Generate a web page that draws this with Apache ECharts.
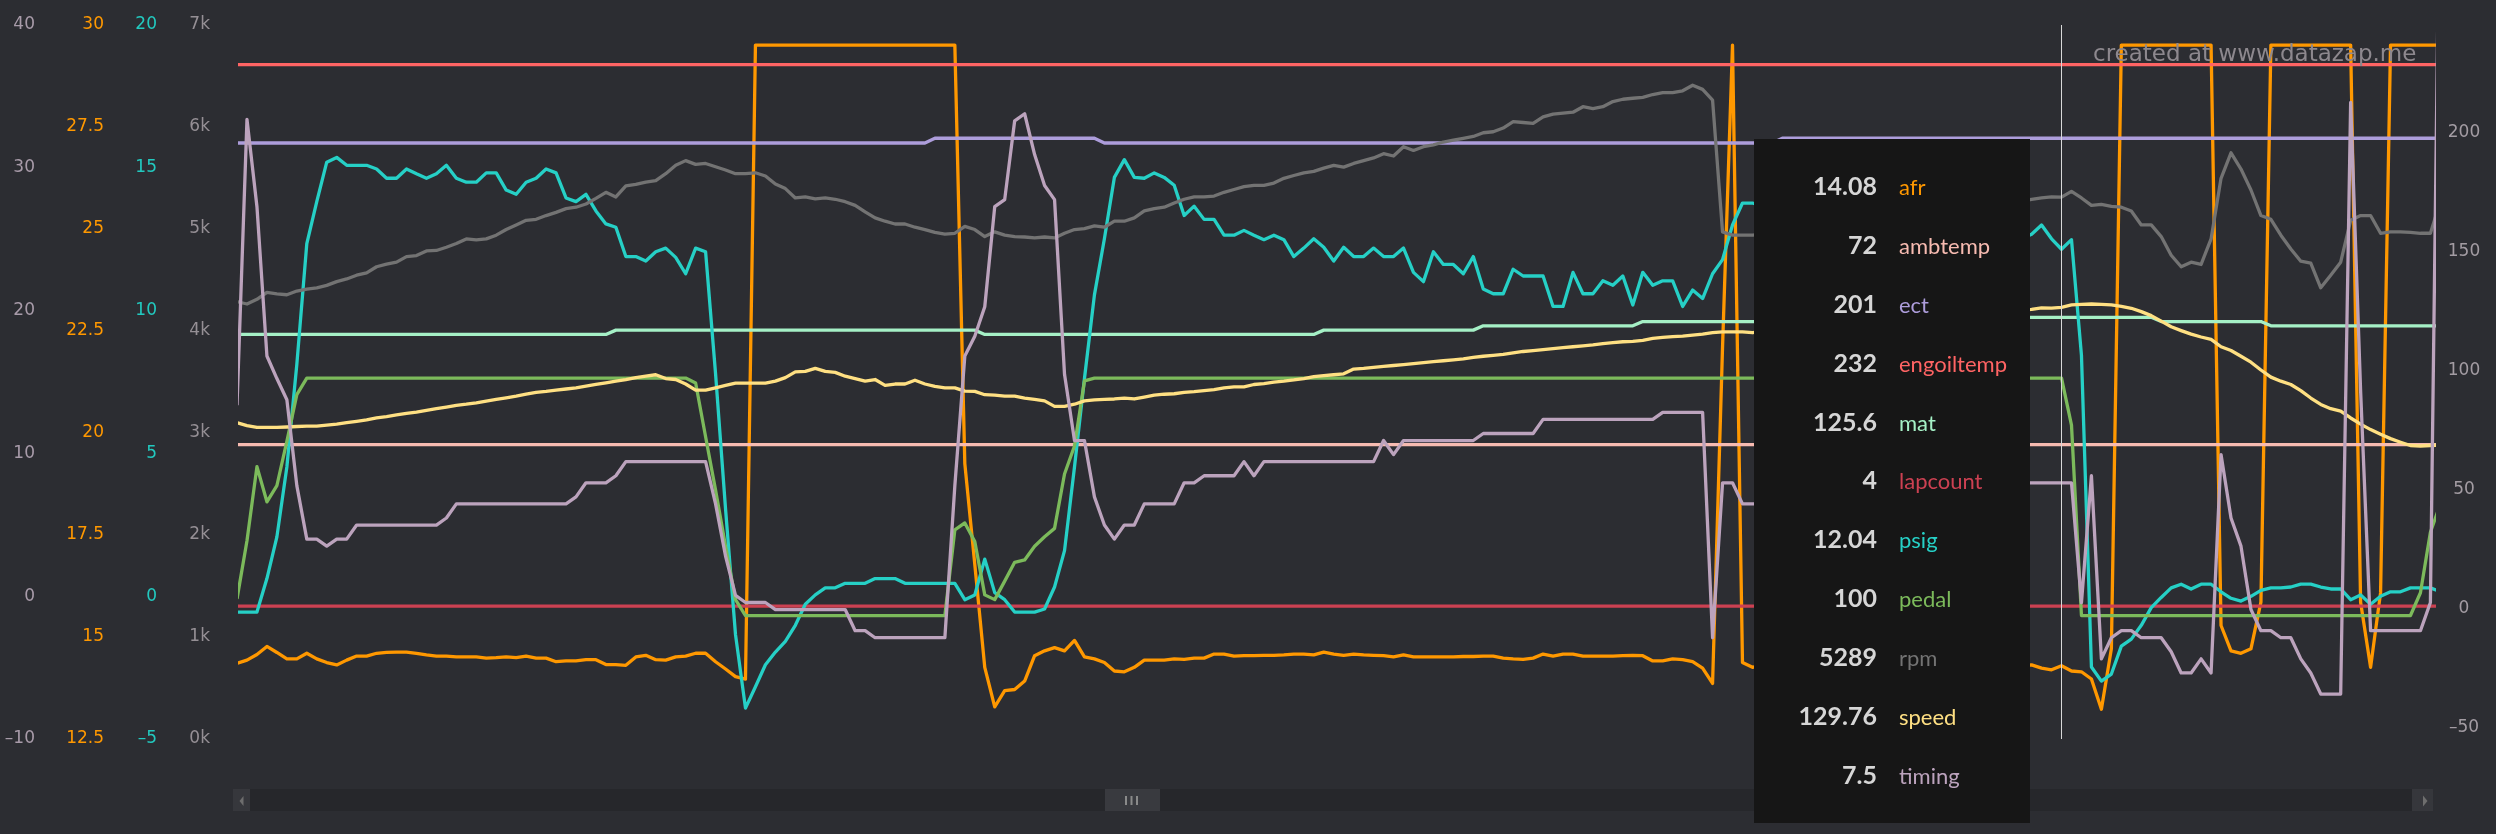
<!DOCTYPE html>
<html>
<head>
<meta charset="utf-8">
<title>datazap log</title>
<script src="https://cdn.jsdelivr.net/npm/echarts@6/dist/echarts.min.js"></script>
<style>
  html, body { margin: 0; padding: 0; background: #2c2d32; }
  #chart { width: 2496px; height: 834px; }
</style>
</head>
<body>
<div id="chart"></div>
<script>
const afr = [
  14.14, 14.22, 14.36, 14.56, 14.41, 14.25, 14.25, 14.39, 14.25, 14.16, 14.10, 14.22, 14.32, 14.32, 14.39, 14.41, 14.42, 14.42, 14.39, 14.35,
  14.32, 14.32, 14.30, 14.30, 14.30, 14.27, 14.28, 14.30, 14.28, 14.32, 14.27, 14.27, 14.18, 14.20, 14.20, 14.23, 14.23, 14.11, 14.11, 14.09,
  14.30, 14.34, 14.23, 14.22, 14.30, 14.32, 14.39, 14.39, 14.18, 14.00, 13.81, 13.75, 29.5, 29.5, 29.5, 29.5, 29.5, 29.5, 29.5, 29.5,
  29.5, 29.5, 29.5, 29.5, 29.5, 29.5, 29.5, 29.5, 29.5, 29.5, 29.5, 29.5, 29.5, 19.1, 16.6, 14.04, 13.06, 13.46, 13.49, 13.70,
  14.33, 14.45, 14.53, 14.45, 14.71, 14.30, 14.25, 14.16, 13.95, 13.93, 14.04, 14.22, 14.22, 14.22, 14.25, 14.24, 14.27, 14.27, 14.37, 14.37,
  14.32, 14.33, 14.33, 14.34, 14.34, 14.35, 14.37, 14.37, 14.35, 14.42, 14.37, 14.34, 14.37, 14.35, 14.34, 14.33, 14.30, 14.35, 14.30, 14.30,
  14.30, 14.30, 14.30, 14.31, 14.31, 14.32, 14.32, 14.27, 14.25, 14.24, 14.27, 14.37, 14.32, 14.37, 14.37, 14.32, 14.32, 14.32, 14.32, 14.33,
  14.34, 14.33, 14.20, 14.20, 14.25, 14.23, 14.18, 14.02, 13.64, 22.0, 29.5, 14.16, 14.04, 14.10, 14.06, 14.12, 14.15, 14.08, 14.11, 14.05,
  14.09, 14.13, 14.07, 14.10, 14.14, 14.09, 14.06, 14.11, 14.08, 14.12, 14.10, 14.05, 14.09, 14.13, 14.08, 14.06, 14.10, 14.07, 14.11, 14.09,
  14.10, 14.02, 13.98, 14.08, 13.95, 13.93, 13.75, 13.00, 14.50, 29.5, 29.5, 29.5, 29.5, 29.5, 29.5, 29.5, 29.5, 29.5, 29.5, 15.08,
  14.45, 14.39, 14.50, 15.66, 29.5, 29.5, 29.5, 29.5, 29.5, 29.5, 29.5, 29.5, 29.5, 15.66, 14.04, 15.89, 29.5, 29.5, 29.5, 29.5, 29.5, 29.5
];
const ambtemp = [
  72, 72, 72, 72, 72, 72, 72, 72, 72, 72, 72, 72, 72, 72, 72, 72, 72, 72, 72, 72,
  72, 72, 72, 72, 72, 72, 72, 72, 72, 72, 72, 72, 72, 72, 72, 72, 72, 72, 72, 72,
  72, 72, 72, 72, 72, 72, 72, 72, 72, 72, 72, 72, 72, 72, 72, 72, 72, 72, 72, 72,
  72, 72, 72, 72, 72, 72, 72, 72, 72, 72, 72, 72, 72, 72, 72, 72, 72, 72, 72, 72,
  72, 72, 72, 72, 72, 72, 72, 72, 72, 72, 72, 72, 72, 72, 72, 72, 72, 72, 72, 72,
  72, 72, 72, 72, 72, 72, 72, 72, 72, 72, 72, 72, 72, 72, 72, 72, 72, 72, 72, 72,
  72, 72, 72, 72, 72, 72, 72, 72, 72, 72, 72, 72, 72, 72, 72, 72, 72, 72, 72, 72,
  72, 72, 72, 72, 72, 72, 72, 72, 72, 72, 72, 72, 72, 72, 72, 72, 72, 72, 72, 72,
  72, 72, 72, 72, 72, 72, 72, 72, 72, 72, 72, 72, 72, 72, 72, 72, 72, 72, 72, 72,
  72, 72, 72, 72, 72, 72, 72, 72, 72, 72, 72, 72, 72, 72, 72, 72, 72, 72, 72, 72,
  72, 72, 72, 72, 72, 72, 72, 72, 72, 72, 72, 72, 72, 72, 72, 72, 72, 72, 72, 72, 72, 72
];
const ect = [
  199, 199, 199, 199, 199, 199, 199, 199, 199, 199, 199, 199, 199, 199, 199, 199, 199, 199, 199, 199,
  199, 199, 199, 199, 199, 199, 199, 199, 199, 199, 199, 199, 199, 199, 199, 199, 199, 199, 199, 199,
  199, 199, 199, 199, 199, 199, 199, 199, 199, 199, 199, 199, 199, 199, 199, 199, 199, 199, 199, 199,
  199, 199, 199, 199, 199, 199, 199, 199, 199, 199, 201, 201, 201, 201, 201, 201, 201, 201, 201, 201,
  201, 201, 201, 201, 201, 201, 201, 199, 199, 199, 199, 199, 199, 199, 199, 199, 199, 199, 199, 199,
  199, 199, 199, 199, 199, 199, 199, 199, 199, 199, 199, 199, 199, 199, 199, 199, 199, 199, 199, 199,
  199, 199, 199, 199, 199, 199, 199, 199, 199, 199, 199, 199, 199, 199, 199, 199, 199, 199, 199, 199,
  199, 199, 199, 199, 199, 199, 199, 199, 199, 199, 199, 199, 199, 199, 199, 201, 201, 201, 201, 201,
  201, 201, 201, 201, 201, 201, 201, 201, 201, 201, 201, 201, 201, 201, 201, 201, 201, 201, 201, 201,
  201, 201, 201, 201, 201, 201, 201, 201, 201, 201, 201, 201, 201, 201, 201, 201, 201, 201, 201, 201,
  201, 201, 201, 201, 201, 201, 201, 201, 201, 201, 201, 201, 201, 201, 201, 201, 201, 201, 201, 201, 201, 201
];
const engoiltemp = [
  232, 232, 232, 232, 232, 232, 232, 232, 232, 232, 232, 232, 232, 232, 232, 232, 232, 232, 232, 232,
  232, 232, 232, 232, 232, 232, 232, 232, 232, 232, 232, 232, 232, 232, 232, 232, 232, 232, 232, 232,
  232, 232, 232, 232, 232, 232, 232, 232, 232, 232, 232, 232, 232, 232, 232, 232, 232, 232, 232, 232,
  232, 232, 232, 232, 232, 232, 232, 232, 232, 232, 232, 232, 232, 232, 232, 232, 232, 232, 232, 232,
  232, 232, 232, 232, 232, 232, 232, 232, 232, 232, 232, 232, 232, 232, 232, 232, 232, 232, 232, 232,
  232, 232, 232, 232, 232, 232, 232, 232, 232, 232, 232, 232, 232, 232, 232, 232, 232, 232, 232, 232,
  232, 232, 232, 232, 232, 232, 232, 232, 232, 232, 232, 232, 232, 232, 232, 232, 232, 232, 232, 232,
  232, 232, 232, 232, 232, 232, 232, 232, 232, 232, 232, 232, 232, 232, 232, 232, 232, 232, 232, 232,
  232, 232, 232, 232, 232, 232, 232, 232, 232, 232, 232, 232, 232, 232, 232, 232, 232, 232, 232, 232,
  232, 232, 232, 232, 232, 232, 232, 232, 232, 232, 232, 232, 232, 232, 232, 232, 232, 232, 232, 232,
  232, 232, 232, 232, 232, 232, 232, 232, 232, 232, 232, 232, 232, 232, 232, 232, 232, 232, 232, 232, 232, 232
];
const mat = [
  118.4, 118.4, 118.4, 118.4, 118.4, 118.4, 118.4, 118.4, 118.4, 118.4, 118.4, 118.4, 118.4, 118.4, 118.4, 118.4, 118.4, 118.4, 118.4, 118.4,
  118.4, 118.4, 118.4, 118.4, 118.4, 118.4, 118.4, 118.4, 118.4, 118.4, 118.4, 118.4, 118.4, 118.4, 118.4, 118.4, 118.4, 118.4, 120.2, 120.2,
  120.2, 120.2, 120.2, 120.2, 120.2, 120.2, 120.2, 120.2, 120.2, 120.2, 120.2, 120.2, 120.2, 120.2, 120.2, 120.2, 120.2, 120.2, 120.2, 120.2,
  120.2, 120.2, 120.2, 120.2, 120.2, 120.2, 120.2, 120.2, 120.2, 120.2, 120.2, 120.2, 120.2, 120.2, 120.2, 118.4, 118.4, 118.4, 118.4, 118.4,
  118.4, 118.4, 118.4, 118.4, 118.4, 118.4, 118.4, 118.4, 118.4, 118.4, 118.4, 118.4, 118.4, 118.4, 118.4, 118.4, 118.4, 118.4, 118.4, 118.4,
  118.4, 118.4, 118.4, 118.4, 118.4, 118.4, 118.4, 118.4, 118.4, 120.2, 120.2, 120.2, 120.2, 120.2, 120.2, 120.2, 120.2, 120.2, 120.2, 120.2,
  120.2, 120.2, 120.2, 120.2, 120.2, 122.0, 122.0, 122.0, 122.0, 122.0, 122.0, 122.0, 122.0, 122.0, 122.0, 122.0, 122.0, 122.0, 122.0, 122.0,
  122.0, 123.8, 123.8, 123.8, 123.8, 123.8, 123.8, 123.8, 123.8, 123.8, 123.8, 123.8, 123.8, 123.8, 123.8, 123.8, 123.8, 123.8, 123.8, 123.8,
  123.8, 123.8, 123.8, 123.8, 123.8, 123.8, 125.6, 125.6, 125.6, 125.6, 125.6, 125.6, 125.6, 125.6, 125.6, 125.6, 125.6, 125.6, 125.6, 125.6,
  125.6, 125.6, 125.6, 125.6, 125.6, 125.6, 125.6, 125.6, 125.6, 125.6, 125.6, 125.6, 125.6, 123.8, 123.8, 123.8, 123.8, 123.8, 123.8, 123.8,
  123.8, 123.8, 123.8, 123.8, 122.0, 122.0, 122.0, 122.0, 122.0, 122.0, 122.0, 122.0, 122.0, 122.0, 122.0, 122.0, 122.0, 122.0, 122.0, 122.0, 122.0, 122.0
];
const lapcount = [
  4, 4, 4, 4, 4, 4, 4, 4, 4, 4, 4, 4, 4, 4, 4, 4, 4, 4, 4, 4,
  4, 4, 4, 4, 4, 4, 4, 4, 4, 4, 4, 4, 4, 4, 4, 4, 4, 4, 4, 4,
  4, 4, 4, 4, 4, 4, 4, 4, 4, 4, 4, 4, 4, 4, 4, 4, 4, 4, 4, 4,
  4, 4, 4, 4, 4, 4, 4, 4, 4, 4, 4, 4, 4, 4, 4, 4, 4, 4, 4, 4,
  4, 4, 4, 4, 4, 4, 4, 4, 4, 4, 4, 4, 4, 4, 4, 4, 4, 4, 4, 4,
  4, 4, 4, 4, 4, 4, 4, 4, 4, 4, 4, 4, 4, 4, 4, 4, 4, 4, 4, 4,
  4, 4, 4, 4, 4, 4, 4, 4, 4, 4, 4, 4, 4, 4, 4, 4, 4, 4, 4, 4,
  4, 4, 4, 4, 4, 4, 4, 4, 4, 4, 4, 4, 4, 4, 4, 4, 4, 4, 4, 4,
  4, 4, 4, 4, 4, 4, 4, 4, 4, 4, 4, 4, 4, 4, 4, 4, 4, 4, 4, 4,
  4, 4, 4, 4, 4, 4, 4, 4, 4, 4, 4, 4, 4, 4, 4, 4, 4, 4, 4, 4,
  4, 4, 4, 4, 4, 4, 4, 4, 4, 4, 4, 4, 4, 4, 4, 4, 4, 4, 4, 4, 4, 4
];
const psig = [
  -0.84, -0.84, -0.84, 0.35, 1.83, 4.31, 7.95, 12.24, 13.73, 15.13, 15.30, 15.02, 15.02, 15.02, 14.89, 14.56, 14.56, 14.89, 14.72, 14.56,
  14.72, 15.02, 14.56, 14.42, 14.42, 14.75, 14.75, 14.14, 13.99, 14.42, 14.56, 14.89, 14.75, 13.86, 13.73, 13.99, 13.40, 12.94, 12.82, 11.78,
  11.78, 11.62, 11.95, 12.08, 11.75, 11.17, 12.08, 11.95, 7.62, 2.82, -1.64, -4.25, -3.49, -2.71, -2.26, -1.88, -1.31, -0.56, -0.23, 0.02,
  0.02, 0.18, 0.18, 0.18, 0.35, 0.35, 0.35, 0.18, 0.18, 0.18, 0.18, 0.18, 0.18, -0.40, -0.23, 1.04, -0.15, -0.40, -0.84, -0.84,
  -0.84, -0.73, 0.05, 1.34, 4.31, 7.45, 10.42, 12.41, 14.59, 15.22, 14.59, 14.56, 14.75, 14.59, 14.31, 13.24, 13.57, 13.10, 13.10, 12.54,
  12.54, 12.71, 12.54, 12.38, 12.54, 12.38, 11.78, 12.08, 12.41, 12.11, 11.62, 12.11, 11.78, 11.78, 12.08, 11.78, 11.78, 12.08, 11.22, 10.89,
  11.95, 11.50, 11.50, 11.17, 11.78, 10.63, 10.46, 10.46, 11.33, 11.09, 11.09, 11.09, 10.01, 10.01, 11.22, 10.46, 10.46, 10.92, 10.76, 11.09,
  10.06, 11.22, 10.76, 10.92, 10.92, 10.01, 10.59, 10.29, 11.17, 11.67, 12.90, 13.68, 13.68, 13.57, 13.40, 13.65, 13.24, 13.32, 13.07, 13.15,
  13.40, 12.90, 12.99, 13.24, 12.82, 13.07, 12.74, 12.90, 12.66, 13.07, 12.82, 12.57, 12.90, 12.66, 12.74, 12.49, 12.82, 12.57, 12.74, 12.41,
  12.57, 12.90, 12.41, 12.04, 12.38, 8.27, -2.79, -3.29, -3.04, -2.05, -1.80, -1.31, -0.68, -0.32, 0.02, 0.15, -0.02, 0.15, 0.15, -0.12,
  -0.35, -0.45, -0.28, -0.07, 0.02, 0.02, 0.05, 0.15, 0.15, 0.05, -0.02, -0.02, -0.40, -0.23, -0.56, -0.28, -0.12, -0.12, 0.02, 0.02, 0.02, -0.12
];
const pedal = [
  7.0, 31.5, 62.7, 47.9, 54.7, 73.4, 93.0, 100, 100, 100, 100, 100, 100, 100, 100, 100, 100, 100, 100, 100,
  100, 100, 100, 100, 100, 100, 100, 100, 100, 100, 100, 100, 100, 100, 100, 100, 100, 100, 100, 100,
  100, 100, 100, 100, 100, 100, 97.9, 75.3, 52.8, 29.2, 6.7, 0, 0, 0, 0, 0, 0, 0, 0, 0,
  0, 0, 0, 0, 0, 0, 0, 0, 0, 0, 0, 0, 36.1, 39.0, 31.2, 8.7, 6.7, 14.5, 22.4, 23.4,
  29.2, 33.2, 36.7, 59.6, 71.4, 98.8, 100, 100, 100, 100, 100, 100, 100, 100, 100, 100, 100, 100, 100, 100,
  100, 100, 100, 100, 100, 100, 100, 100, 100, 100, 100, 100, 100, 100, 100, 100, 100, 100, 100, 100,
  100, 100, 100, 100, 100, 100, 100, 100, 100, 100, 100, 100, 100, 100, 100, 100, 100, 100, 100, 100,
  100, 100, 100, 100, 100, 100, 100, 100, 100, 100, 100, 100, 100, 100, 100, 100, 100, 100, 100, 100,
  100, 100, 100, 100, 100, 100, 100, 100, 100, 100, 100, 100, 100, 100, 100, 100, 100, 100, 100, 100,
  100, 100, 100, 100, 80.2, 0, 0, 0, 0, 0, 0, 0, 0, 0, 0, 0, 0, 0, 0, 0,
  0, 0, 0, 0, 0, 0, 0, 0, 0, 0, 0, 0, 0, 0, 0, 0, 0, 0, 0, 9.6, 35.1, 47
];
const rpm = [
  4250, 4227, 4273, 4342, 4328, 4319, 4356, 4375, 4388, 4412, 4449, 4476, 4513, 4537, 4597, 4624, 4643, 4698, 4708, 4754,
  4759, 4791, 4828, 4874, 4865, 4874, 4911, 4967, 5013, 5059, 5069, 5106, 5138, 5175, 5189, 5221, 5277, 5337, 5291, 5402,
  5416, 5439, 5453, 5522, 5605, 5652, 5615, 5624, 5591, 5559, 5522, 5522, 5531, 5499, 5420, 5374, 5281, 5291, 5272, 5281,
  5268, 5244, 5207, 5143, 5083, 5050, 5022, 5022, 4990, 4967, 4939, 4921, 4930, 4999, 4967, 4897, 4944, 4911, 4897, 4893,
  4884, 4893, 4884, 4930, 4967, 4976, 5004, 4990, 5050, 5050, 5083, 5152, 5175, 5189, 5231, 5268, 5291, 5291, 5300, 5337,
  5365, 5393, 5406, 5406, 5429, 5476, 5504, 5531, 5545, 5578, 5605, 5587, 5624, 5652, 5679, 5721, 5698, 5790, 5753, 5790,
  5809, 5837, 5855, 5874, 5892, 5929, 5939, 5976, 6040, 6031, 6022, 6087, 6114, 6124, 6133, 6188, 6170, 6188, 6239, 6262,
  6272, 6281, 6309, 6327, 6327, 6346, 6401, 6360, 6253, 4944, 4911, 4911, 4911, 4920, 4935, 4950, 4944, 4960, 4975, 4990,
  4985, 5000, 5015, 5030, 5025, 5045, 5060, 5075, 5070, 5090, 5105, 5120, 5135, 5150, 5160, 5175, 5190, 5210, 5230, 5250,
  5268, 5281, 5291, 5289, 5346, 5281, 5207, 5217, 5198, 5189, 5152, 5013, 5013, 4897, 4712, 4597, 4643, 4620, 4874, 5476,
  5730, 5568, 5360, 5106, 5069, 4911, 4773, 4652, 4634, 4388, 4513, 4643, 5059, 5106, 5106, 4930, 4944, 4944, 4939, 4930, 4930, 5250
];
const speed = [
  81.2, 80.0, 79.2, 79.2, 79.2, 79.4, 79.6, 79.8, 79.8, 80.2, 80.6, 81.2, 81.8, 82.4, 83.2, 83.8, 84.5, 85.1, 85.7, 86.4,
  87.1, 87.8, 88.5, 89.0, 89.6, 90.3, 91.0, 91.7, 92.4, 93.2, 94.0, 94.4, 94.9, 95.4, 95.9, 96.6, 97.3, 98.0, 98.7, 99.4,
  100.2, 100.8, 101.4, 99.8, 99.4, 97.5, 94.9, 94.9, 95.9, 96.9, 97.9, 97.9, 97.9, 97.9, 98.7, 100.2, 102.6, 102.8, 104.1, 102.8,
  102.4, 100.8, 99.8, 98.7, 99.4, 96.9, 97.5, 97.5, 99.1, 97.5, 96.5, 95.9, 95.9, 94.5, 94.4, 93.0, 92.8, 92.4, 92.4, 91.6,
  91.0, 90.4, 88.1, 88.1, 89.0, 90.4, 90.8, 91.0, 91.2, 91.6, 91.2, 92.0, 92.8, 93.2, 93.4, 94.0, 94.3, 94.7, 95.1, 95.9,
  96.3, 96.3, 97.3, 97.7, 98.3, 98.7, 99.2, 99.8, 100.6, 101.0, 101.4, 101.8, 103.8, 104.1, 104.5, 104.9, 105.3, 105.7, 106.1, 106.5,
  106.9, 107.3, 107.7, 108.1, 108.7, 109.2, 109.6, 110.0, 110.6, 111.2, 111.6, 112.0, 112.4, 112.8, 113.2, 113.6, 114.0, 114.5, 114.9, 115.3,
  115.5, 115.9, 116.7, 117.1, 117.5, 117.7, 118.1, 118.5, 119.1, 119.5, 119.5, 119.5, 119.1, 119.6, 119.8, 120.3, 120.5, 121.0, 121.1, 121.6,
  122.0, 122.1, 122.6, 123.0, 123.1, 123.7, 124.0, 124.2, 124.6, 125.1, 125.2, 125.7, 126.0, 126.2, 126.8, 127.0, 127.3, 127.8, 128.0, 128.6,
  128.9, 129.6, 129.5, 129.76, 130.8, 131.0, 131.2, 131.0, 130.8, 130.2, 129.4, 128.0, 126.3, 124.0, 121.6, 120.0, 118.5, 117.3, 116.3, 113.2,
  111.6, 109.2, 106.7, 103.4, 100.4, 98.7, 97.3, 94.7, 91.6, 88.9, 87.1, 86.1, 83.2, 80.6, 78.3, 76.3, 74.5, 73.0, 71.6, 71.4, 71.6, 71.8
];
const timing = [
  13.0, 33.3, 27.1, 16.5, 14.9, 13.4, 7.3, 3.5, 3.5, 3.0, 3.5, 3.5, 4.5, 4.5, 4.5, 4.5, 4.5, 4.5, 4.5, 4.5,
  4.5, 5.0, 6.0, 6.0, 6.0, 6.0, 6.0, 6.0, 6.0, 6.0, 6.0, 6.0, 6.0, 6.0, 6.5, 7.5, 7.5, 7.5, 8.0, 9.0,
  9.0, 9.0, 9.0, 9.0, 9.0, 9.0, 9.0, 9.0, 6.0, 2.3, -0.5, -1.0, -1.0, -1.0, -1.5, -1.5, -1.5, -1.5, -1.5, -1.5,
  -1.5, -1.5, -3.0, -3.0, -3.5, -3.5, -3.5, -3.5, -3.5, -3.5, -3.5, -3.5, 7.3, 16.5, 17.9, 20.0, 27.1, 27.6, 33.2, 33.7,
  30.8, 28.6, 27.6, 15.2, 10.5, 10.5, 6.5, 4.5, 3.5, 4.5, 4.5, 6.0, 6.0, 6.0, 6.0, 7.5, 7.5, 8.0, 8.0, 8.0,
  8.0, 9.0, 8.0, 9.0, 9.0, 9.0, 9.0, 9.0, 9.0, 9.0, 9.0, 9.0, 9.0, 9.0, 9.0, 10.5, 9.5, 10.5, 10.5, 10.5,
  10.5, 10.5, 10.5, 10.5, 10.5, 11.0, 11.0, 11.0, 11.0, 11.0, 11.0, 12.0, 12.0, 12.0, 12.0, 12.0, 12.0, 12.0, 12.0, 12.0,
  12.0, 12.0, 12.0, 12.5, 12.5, 12.5, 12.5, 12.5, -3.5, 7.5, 7.5, 6.0, 6.0, 6.0, 6.0, 6.0, 6.0, 6.0, 6.0, 6.0,
  6.0, 6.0, 6.0, 6.0, 6.0, 6.0, 7.5, 7.5, 7.5, 7.5, 7.5, 7.5, 7.5, 7.5, 7.5, 7.5, 7.5, 7.5, 7.5, 7.5,
  7.5, 7.5, 7.5, 7.5, 7.5, -1.0, 8.0, -5.0, -3.5, -3.0, -3.0, -3.5, -3.5, -3.5, -4.5, -6.0, -6.0, -5.0, -6.0, 9.5,
  5.0, 3.0, -1.5, -3.0, -3.0, -3.5, -3.5, -5.0, -6.0, -7.5, -7.5, -7.5, 34.5, 14.0, -3.0, -3.0, -3.0, -3.0, -3.0, -3.0, -1.0, 55
];

// sample number along the log, the cursor sits on sample 183
const samples = afr.map((v, i) => i);
const hoverIndex = 183;

// yAxis indexes: 0-4 are the printed scales, 5-9 carry the data
const channels = [
  { name: "afr", values: afr, color: "#ff9800", axis: 7 },
  { name: "ambtemp", values: ambtemp, color: "#f7bbb1", axis: 5 },
  { name: "ect", values: ect, color: "#ad9ddb", axis: 5 },
  { name: "engoiltemp", values: engoiltemp, color: "#ff6464", axis: 5 },
  { name: "mat", values: mat, color: "#a5f0c6", axis: 5 },
  { name: "lapcount", values: lapcount, color: "#cc4152", axis: 5 },
  { name: "psig", values: psig, color: "#26d0c6", axis: 8 },
  { name: "pedal", values: pedal, color: "#7cba5b", axis: 5 },
  { name: "rpm", values: rpm, color: "#737373", axis: 9 },
  { name: "speed", values: speed, color: "#ffe083", axis: 5 },
  { name: "timing", values: timing, color: "#bca3bd", axis: 6 }
];

const labelFont = { fontFamily: "DejaVu Sans", fontSize: 17 };
const noLines = {
  axisLine: { show: false },
  axisTick: { show: false },
  splitLine: { show: false }
};
// negative ticks use a long dash like the original
const dash = (v) => String(v).replace("-", "\u2013");

const chart = echarts.init(document.getElementById("chart"));

chart.setOption({
  backgroundColor: "#2c2d32",
  animation: false,
  grid: { left: 240, right: 63, top: 25, bottom: 95 },
  xAxis: {
    type: "value",
    min: 0.3,
    max: 220.26,
    axisLine: { show: false },
    axisTick: { show: false },
    axisLabel: { show: false },
    splitLine: { show: false }
  },
  yAxis: [
    { type: "value", position: "left", offset: 175, min: -10, max: 40, interval: 10, ...noLines,
      axisLabel: { ...labelFont, color: "#a89ba9", margin: 30, formatter: dash } },
    { type: "value", position: "left", offset: 106, min: 12.5, max: 30, interval: 2.5, ...noLines,
      axisLabel: { ...labelFont, color: "#ff9800", margin: 30 } },
    { type: "value", position: "left", offset: 53, min: -5, max: 20, interval: 5, ...noLines,
      axisLabel: { ...labelFont, color: "#22c9bf", margin: 30, formatter: dash } },
    { type: "value", position: "left", offset: 0, min: 0, max: 7000, interval: 1000, ...noLines,
      axisLabel: { ...labelFont, color: "#958f95", margin: 30, formatter: (v) => v / 1000 + "k" } },
    { type: "value", position: "right", min: -55, max: 245, interval: 5, ...noLines,
      axisLabel: { ...labelFont, color: "#a39ca3", margin: 31, align: "center",
        formatter: (v) => (v % 50 === 0 ? dash(v) : "") } },
    // data scales, not drawn
    { type: "value", show: false, min: -52, max: 248.7 },
    { type: "value", show: false, min: -10.69, max: 40 },
    { type: "value", show: false, min: 12.26, max: 30 },
    { type: "value", show: false, min: -5.345, max: 20 },
    { type: "value", show: false, min: -96.5, max: 7000 }
  ],
  tooltip: {
    trigger: "axis",
    triggerOn: "none",
    alwaysShowContent: true,
    position: [1754, 139],
    backgroundColor: "#161616",
    borderWidth: 0,
    padding: 0,
    transitionDuration: 0,
    extraCssText: "width:276px;height:684px;border-radius:0;box-shadow:none;",
    axisPointer: {
      type: "line",
      animation: false,
      lineStyle: { color: "#d8d8d8", width: 1, type: "solid" }
    },
    formatter: function (params) {
      const rows = params.map(function (p) {
        return '<div style="height:58.9px;line-height:58.9px;white-space:nowrap">' +
          '<span style="display:inline-block;width:123px;text-align:right;font:bold 25px Lato;color:#d6d6d6">' +
          p.value[1] + "</span>" +
          '<span style="display:inline-block;margin-left:22px;font:22px Lato;color:' + p.color + '">' +
          p.seriesName + "</span></div>";
      });
      return '<div style="padding-top:22px">' + rows.join("") + "</div>";
    }
  },
  series: channels.map((c) => ({
    name: c.name,
    type: "line",
    yAxisIndex: c.axis,
    symbol: "none",
    emphasis: { disabled: true },
    itemStyle: { color: c.color },
    lineStyle: { color: c.color, width: 3.3, join: "round" },
    data: samples.map((x, i) => [x, c.values[i]])
  })),
  graphic: [
    // scrollbar under the plot
    { type: "rect", silent: true, shape: { x: 233, y: 789, width: 2200, height: 22 }, style: { fill: "#26272b" } },
    { type: "rect", silent: true, shape: { x: 233, y: 789, width: 17, height: 22 }, style: { fill: "#36373c" } },
    { type: "polygon", silent: true, shape: { points: [[239.5, 801], [243.5, 796], [243.5, 806]] }, style: { fill: "#6e6e6e" } },
    { type: "rect", silent: true, shape: { x: 2412, y: 789, width: 21, height: 22 }, style: { fill: "#36373c" } },
    { type: "polygon", silent: true, shape: { points: [[2427.5, 801], [2423, 795.5], [2423, 806.5]] }, style: { fill: "#6e6e6e" } },
    { type: "rect", silent: true, shape: { x: 1105, y: 789, width: 55, height: 22 }, style: { fill: "#393a3f" } },
    { type: "rect", silent: true, shape: { x: 1125, y: 796, width: 2, height: 9 }, style: { fill: "#8a8a8a" } },
    { type: "rect", silent: true, shape: { x: 1130.5, y: 796, width: 2, height: 9 }, style: { fill: "#8a8a8a" } },
    { type: "rect", silent: true, shape: { x: 1136, y: 796, width: 2, height: 9 }, style: { fill: "#8a8a8a" } },
    {
      type: "text", silent: true, z: 100, x: 2093, y: 55,
      style: { text: "created at www.datazap.me", fill: "#8d888e", fontFamily: "DejaVu Sans", fontSize: 23, verticalAlign: "middle" }
    }
  ]
});

chart.dispatchAction({ type: "showTip", seriesIndex: 0, dataIndex: hoverIndex });
</script>
</body>
</html>
